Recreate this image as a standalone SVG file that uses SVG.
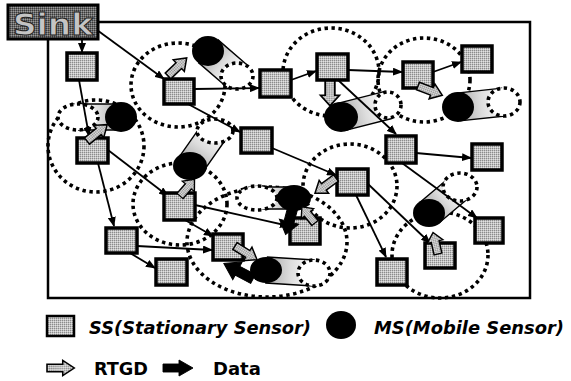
<svg xmlns="http://www.w3.org/2000/svg" width="571" height="381" viewBox="0 0 571 381">
<defs>
<pattern id="stip" width="2" height="2" patternUnits="userSpaceOnUse"><rect width="2" height="2" fill="#c2c2c2"/><rect width="1" height="1" fill="#8c8c8c"/><rect x="1" y="1" width="1" height="1" fill="#e2e2e2"/></pattern>
<pattern id="dstip" width="2" height="2" patternUnits="userSpaceOnUse"><rect width="2" height="2" fill="#6a6a6a"/><rect width="1" height="1" fill="#3a3a3a"/><rect x="1" y="1" width="1" height="1" fill="#999"/></pattern>
<linearGradient id="bandg" x1="0" y1="0" x2="1" y2="0"><stop offset="0" stop-color="#a8a8a8"/><stop offset="0.5" stop-color="#dcdcdc"/><stop offset="1" stop-color="#ffffff"/></linearGradient>
<marker id="ah" markerWidth="10" markerHeight="8" refX="9" refY="4" orient="auto" markerUnits="userSpaceOnUse"><path d="M0,0L10,4L0,8Z" fill="#000"/></marker>
<polygon id="rtgd" points="0,-4 15,-4 15,-8 26,0 15,8 15,4 0,4"/>
<polygon id="data" points="0,-5 16,-5 16,-10 30,0 16,10 16,5 0,5"/>
</defs>
<style>
.ss{fill:url(#stip);stroke:#000;stroke-width:3.5}
.ms{fill:#000}
.rng{fill:none;stroke:#000;stroke-width:3.6;stroke-dasharray:3.4 3.6}
.sm{fill:#fff;stroke:#000;stroke-width:3.6;stroke-dasharray:3.4 3.6}
.band{fill:url(#bandg)}
.bedge{stroke:#000;stroke-width:1.4;fill:none}
.cn{stroke:#000;stroke-width:1.8;fill:none;marker-end:url(#ah)}
.rt{fill:url(#stip);stroke:#000;stroke-width:1.5}
.dt{fill:#000;stroke:#000;stroke-width:1}
.lg{font-family:"DejaVu Sans","Liberation Sans",sans-serif;font-weight:bold;font-size:18px;fill:#000}
</style>

<rect x="48" y="22" width="482" height="276" fill="#fff" stroke="#000" stroke-width="2.5"/>

<g id="ranges">
<ellipse class="rng" cx="178" cy="85" rx="47" ry="42"/>
<ellipse class="rng" cx="96" cy="146" rx="48" ry="46"/>
<ellipse class="rng" cx="180" cy="204" rx="47" ry="41"/>
<ellipse class="rng" cx="331" cy="72" rx="48" ry="44"/>
<ellipse class="rng" cx="424" cy="80" rx="46" ry="42"/>
<ellipse class="rng" cx="350" cy="186" rx="47" ry="42"/>
<ellipse class="rng" cx="440" cy="255" rx="48" ry="43"/>
<ellipse class="rng" cx="267" cy="242" rx="80" ry="55"/>
</g>

<g id="bands">
<g transform="translate(208,51) rotate(40.8)"><rect class="band" x="0" y="-15" width="38" height="30"/><path class="bedge" d="M0,-15H38M0,15H38"/></g>
<g transform="translate(121,117) rotate(180)"><rect class="band" x="0" y="-13" width="43" height="26"/><path class="bedge" d="M0,-13H43M0,13H43"/></g>
<g transform="translate(341,117) rotate(-14.3)"><rect class="band" x="0" y="-14" width="48" height="28"/><path class="bedge" d="M0,-14H48M0,14H48"/></g>
<g transform="translate(458,107) rotate(-6.2)"><rect class="band" x="0" y="-14" width="46" height="28"/><path class="bedge" d="M0,-14H46M0,14H46"/></g>
<g transform="translate(190,166) rotate(-55)"><rect class="band" x="0" y="-14" width="44" height="28"/><path class="bedge" d="M0,-14H44M0,14H44"/></g>
<g transform="translate(294,198) rotate(180)"><rect class="band" x="0" y="-11" width="37" height="22"/><path class="bedge" d="M0,-11H37M0,11H37"/></g>
<g transform="translate(266,270) rotate(3.6)"><rect class="band" x="0" y="-13" width="48" height="26"/><path class="bedge" d="M0,-13H48M0,13H48"/></g>
<g transform="translate(429,213) rotate(-40)"><rect class="band" x="0" y="-14" width="40" height="28"/><path class="bedge" d="M0,-14H40M0,14H40"/></g>
</g>

<g id="prev-positions">
<ellipse class="sm" cx="237" cy="76" rx="16" ry="13"/>
<ellipse class="sm" cx="78" cy="117" rx="20" ry="13"/>
<ellipse class="sm" cx="388" cy="105" rx="13" ry="13"/>
<ellipse class="sm" cx="504" cy="102" rx="16" ry="14"/>
<ellipse class="sm" cx="215" cy="131" rx="18" ry="12"/>
<ellipse class="sm" cx="257" cy="198" rx="20" ry="12"/>
<ellipse class="sm" cx="314" cy="273" rx="16" ry="13"/>
<ellipse class="sm" cx="460" cy="187" rx="17" ry="14"/>
</g>

<g id="connectors">
<line class="cn" x1="82" y1="39" x2="82" y2="52"/>
<line class="cn" x1="97" y1="30" x2="164" y2="79"/>
<line class="cn" x1="79" y1="80" x2="89" y2="136"/>
<line class="cn" x1="194" y1="89" x2="259" y2="88"/>
<line class="cn" x1="188" y1="104" x2="240" y2="132"/>
<line class="cn" x1="291" y1="80" x2="316" y2="71"/>
<line class="cn" x1="348" y1="70" x2="402" y2="72"/>
<line class="cn" x1="338" y1="80" x2="396" y2="134"/>
<line class="cn" x1="433" y1="72" x2="461" y2="62"/>
<line class="cn" x1="416" y1="153" x2="471" y2="158"/>
<line class="cn" x1="402" y1="163" x2="477" y2="218"/>
<line class="cn" x1="272" y1="148" x2="336" y2="175"/>
<line class="cn" x1="356" y1="195" x2="386" y2="257"/>
<line class="cn" x1="368" y1="184" x2="430" y2="243"/>
<line class="cn" x1="108" y1="150" x2="168" y2="196"/>
<line class="cn" x1="98" y1="163" x2="114" y2="226"/>
<line class="cn" x1="195" y1="205" x2="289" y2="226"/>
<line class="cn" x1="185" y1="220" x2="213" y2="236"/>
<line class="cn" x1="137" y1="246" x2="212" y2="250"/>
<line class="cn" x1="130" y1="253" x2="155" y2="268"/>
</g>

<g id="sink"><rect x="8" y="5" width="90" height="34" fill="url(#dstip)" stroke="#000" stroke-width="3"/><text x="13" y="35" font-family="DejaVu Sans, sans-serif" font-weight="bold" font-size="31" textLength="80" lengthAdjust="spacingAndGlyphs" fill="#c4c4c4" stroke="#222" stroke-width="1">Sink</text></g>

<g id="s1"><rect class="ss" x="67" y="53" width="30" height="27"/></g>
<g id="s2"><rect class="ss" x="164" y="79" width="30" height="25"/></g>
<g id="s3"><rect class="ss" x="260" y="70" width="31" height="27"/></g>
<g id="s4"><rect class="ss" x="241" y="128" width="31" height="25"/></g>
<g id="s5"><rect class="ss" x="317" y="54" width="31" height="26"/></g>
<g id="s6"><rect class="ss" x="403" y="62" width="30" height="26"/></g>
<g id="s7"><rect class="ss" x="462" y="46" width="30" height="26"/></g>
<g id="s8"><rect class="ss" x="386" y="136" width="30" height="27"/></g>
<g id="s9"><rect class="ss" x="472" y="144" width="30" height="26"/></g>
<g id="s10"><rect class="ss" x="337" y="169" width="31" height="26"/></g>
<g id="s11"><rect class="ss" x="290" y="218" width="30" height="26"/></g>
<g id="s12"><rect class="ss" x="475" y="218" width="28" height="25"/></g>
<g id="s13"><rect class="ss" x="425" y="243" width="30" height="25"/></g>
<g id="s14"><rect class="ss" x="377" y="259" width="30" height="26"/></g>
<g id="s15"><rect class="ss" x="77" y="138" width="31" height="25"/></g>
<g id="s16"><rect class="ss" x="164" y="193" width="31" height="27"/></g>
<g id="s17"><rect class="ss" x="106" y="228" width="31" height="25"/></g>
<g id="s18"><rect class="ss" x="156" y="259" width="31" height="26"/></g>
<g id="s19"><rect class="ss" x="213" y="234" width="30" height="26"/></g>

<g id="m1"><ellipse class="ms" cx="208" cy="51" rx="16" ry="15"/></g>
<g id="m2"><ellipse class="ms" cx="121" cy="117" rx="16" ry="15"/></g>
<g id="m3"><ellipse class="ms" cx="341" cy="117" rx="17" ry="15"/></g>
<g id="m4"><ellipse class="ms" cx="458" cy="107" rx="16" ry="15"/></g>
<g id="m5"><ellipse class="ms" cx="190" cy="166" rx="17" ry="14"/></g>
<g id="m6"><ellipse class="ms" cx="294" cy="198" rx="17" ry="13"/></g>
<g id="m7"><ellipse class="ms" cx="266" cy="270" rx="16" ry="13"/></g>
<g id="m8"><ellipse class="ms" cx="429" cy="213" rx="16" ry="14"/></g>

<g id="rtgd-arrows">
<use href="#rtgd" class="rt" transform="translate(168,76) rotate(-44)"/>
<use href="#rtgd" class="rt" transform="translate(87,141) rotate(-39)"/>
<use href="#rtgd" class="rt" transform="translate(330,81) rotate(90) scale(0.95,1.2)"/>
<use href="#rtgd" class="rt" transform="translate(418,86) rotate(21)"/>
<use href="#rtgd" class="rt" transform="translate(180,196) rotate(-49) scale(0.85,1)"/>
<use href="#rtgd" class="rt" transform="translate(336,178) rotate(144)"/>
<use href="#rtgd" class="rt" transform="translate(315,223) rotate(-129) scale(0.8,1)"/>
<use href="#rtgd" class="rt" transform="translate(235,246) rotate(32)"/>
<use href="#rtgd" class="rt" transform="translate(438,254) rotate(-103) scale(0.85,1)"/>
</g>
<g id="data-arrows">
<use href="#data" class="dt" transform="translate(253,279) rotate(-152) scale(1.1,1)"/>
<use href="#data" class="dt" transform="translate(293,207) rotate(105) scale(0.95,1)"/>
</g>

<g id="legend">
<rect x="47" y="316" width="27" height="20" fill="url(#stip)" stroke="#000" stroke-width="2.5"/>
<text class="lg" x="89" y="334" font-style="italic" textLength="222" lengthAdjust="spacingAndGlyphs">SS(Stationary Sensor)</text>
<ellipse cx="341" cy="325" rx="15" ry="14" fill="#000"/>
<text class="lg" x="374" y="334" font-style="italic" textLength="190" lengthAdjust="spacingAndGlyphs">MS(Mobile Sensor)</text>
<use href="#rtgd" class="rt" transform="translate(47,368) scale(1.05,0.95)"/>
<text class="lg" x="94" y="375" textLength="54" lengthAdjust="spacingAndGlyphs">RTGD</text>
<use href="#data" class="dt" transform="translate(163,368) scale(1,0.8)"/>
<text class="lg" x="213" y="375">Data</text>
</g>
</svg>
